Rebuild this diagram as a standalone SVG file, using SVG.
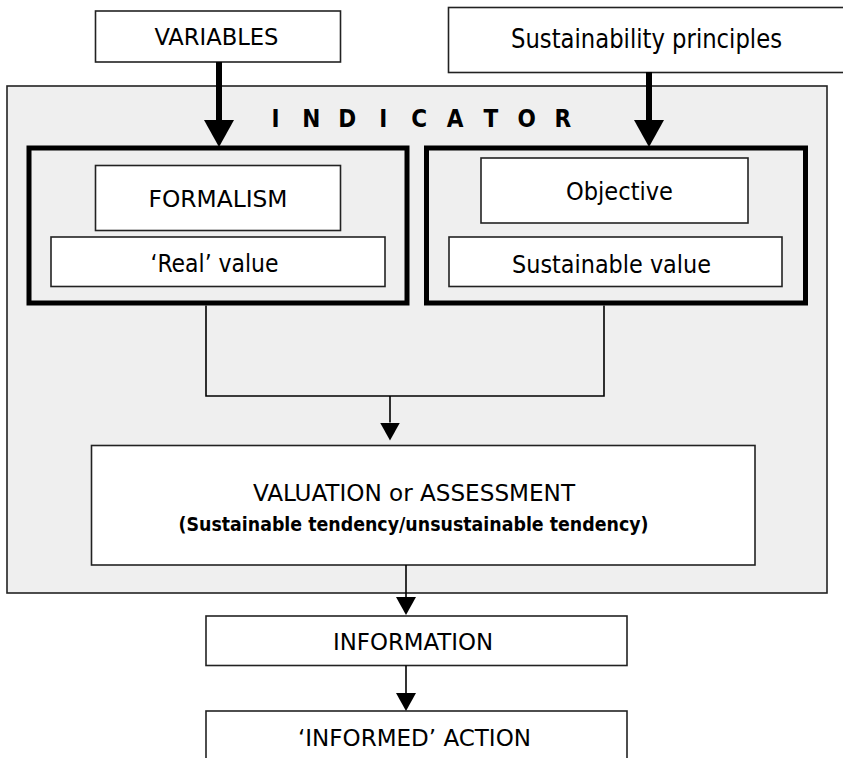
<svg xmlns="http://www.w3.org/2000/svg" width="843" height="758" viewBox="0 0 843 758">
<style>
  .box{fill:#ffffff;stroke:#222;stroke-width:1.6}
  .panel{fill:#efefef;stroke:#222;stroke-width:1.6}
  .thick{fill:#efefef;stroke:#000;stroke-width:5}
  .t{font-family:"DejaVu Sans Condensed","DejaVu Sans",sans-serif;fill:#000;text-anchor:middle}
  .b{font-weight:bold}
  .heavy{fill:none;stroke:#000;stroke-width:6}
  .thin{fill:none;stroke:#000;stroke-width:1.6}
</style>
<defs>
  <marker id="headBig" markerUnits="userSpaceOnUse" markerWidth="28" markerHeight="30" viewBox="0 0 28 30" refX="0" refY="15" orient="auto">
    <path d="M0,0 L27,15 L0,30 Z" fill="#000"/>
  </marker>
  <marker id="headSmall" markerUnits="userSpaceOnUse" markerWidth="19" markerHeight="20" viewBox="0 0 19 20" refX="0" refY="10" orient="auto">
    <path d="M0,0 L18,10 L0,20 Z" fill="#000"/>
  </marker>
</defs>

<g id="variables">
  <rect class="box" x="95.5" y="11" width="245" height="51"/>
  <text class="t" x="216.5" y="45" font-size="23" textLength="124" lengthAdjust="spacingAndGlyphs">VARIABLES</text>
</g>
<g id="sustainability-principles">
  <rect class="box" x="448.5" y="7.5" width="400" height="65"/>
  <text class="t" x="646.5" y="48" font-size="26" textLength="271" lengthAdjust="spacingAndGlyphs">Sustainability principles</text>
</g>

<g id="indicator">
  <rect class="panel" x="7" y="86" width="820" height="507"/>
  <text class="t b" font-size="24" y="126.5" x="275.5 311.4 347.3 383.2 419.1 455 490.9 526.8 562.7">INDICATOR</text>
</g>

<g id="real-group">
  <rect class="thick" x="29" y="148" width="378" height="155"/>
</g>
<g id="formalism">
  <rect class="box" x="95.5" y="165.5" width="245" height="65"/>
  <text class="t" x="218" y="207" font-size="23" textLength="139" lengthAdjust="spacingAndGlyphs">FORMALISM</text>
</g>
<g id="real-value">
  <rect class="box" x="51" y="237" width="334" height="49.5"/>
  <text class="t" x="214.5" y="272" font-size="24" textLength="128" lengthAdjust="spacingAndGlyphs">‘Real’ value</text>
</g>

<g id="sustainable-group">
  <rect class="thick" x="426.5" y="148" width="379" height="155"/>
</g>
<g id="objective">
  <rect class="box" x="481" y="158" width="267" height="65"/>
  <text class="t" x="619.5" y="200" font-size="25" textLength="107" lengthAdjust="spacingAndGlyphs">Objective</text>
</g>
<g id="sustainable-value">
  <rect class="box" x="449" y="237" width="333" height="49.5"/>
  <text class="t" x="611.5" y="272.5" font-size="25" textLength="199" lengthAdjust="spacingAndGlyphs">Sustainable value</text>
</g>

<g id="valuation">
  <rect class="box" x="91.5" y="445.5" width="663.5" height="119.5"/>
  <text class="t" x="414" y="501" font-size="23" textLength="322" lengthAdjust="spacingAndGlyphs">VALUATION or ASSESSMENT</text>
  <text class="t b" x="413.5" y="530.5" font-size="20" textLength="470" lengthAdjust="spacingAndGlyphs">(Sustainable tendency/unsustainable tendency)</text>
</g>

<g id="information">
  <rect class="box" x="206" y="616" width="421" height="49.5"/>
  <text class="t" x="413" y="650" font-size="23" textLength="160" lengthAdjust="spacingAndGlyphs">INFORMATION</text>
</g>

<g id="informed-action">
  <rect class="box" x="206" y="711" width="421" height="70"/>
  <text class="t" x="414.5" y="745.5" font-size="23" textLength="233" lengthAdjust="spacingAndGlyphs">‘INFORMED’ ACTION</text>
</g>

<g id="connectors">
  <path class="heavy" d="M219,62 V120" marker-end="url(#headBig)"/>
  <path class="heavy" d="M649,72 V120" marker-end="url(#headBig)"/>
  <path class="thin" d="M206,305.5 V396 H604 V305.5"/>
  <path class="thin" d="M390,396 V422.5" marker-end="url(#headSmall)"/>
  <path class="thin" d="M406,565 V597" marker-end="url(#headSmall)"/>
  <path class="thin" d="M406,665.5 V693" marker-end="url(#headSmall)"/>
</g>
</svg>
